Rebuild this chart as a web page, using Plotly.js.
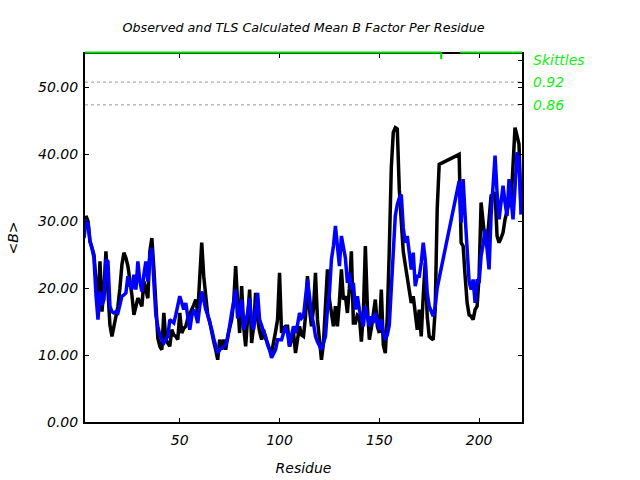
<!DOCTYPE html>
<html>
<head>
<meta charset="utf-8">
<script src="https://cdn.plot.ly/plotly-3.0.1.min.js"></script>
<style>
  body { margin: 0; background: #fff; }
  #chart { width: 640px; height: 480px; }
</style>
</head>
<body>
<div id="chart"></div>
<script>
// residues are numbered from 2; a chain break between 180 and 190
const segStart = [2, 190];

// observed mean B per residue (black)
const obsSeg1 = [
  28.0, 30.8, 30.0, 27.0, 26.0, 25.0, 21.0, 17.0, 24.0, 16.5,   // 2-11
  20.0, 25.5, 19.5, 14.5, 12.8, 14.3, 16.0, 17.3, 20.0, 23.5,   // 12-21
  25.3, 24.5, 23.3, 21.5, 19.0, 16.0, 17.3, 18.5, 18.0, 17.3,   // 22-31
  21.0, 19.5, 18.5, 25.5, 27.5, 23.0, 17.3, 12.5, 11.3, 10.8,   // 32-41
  16.3, 12.3, 11.8, 11.3, 13.8, 13.0, 12.8, 12.3, 16.3, 13.3,   // 42-51
  14.0, 14.3, 15.5, 16.3, 16.8, 17.5, 18.3, 16.3, 21.3, 26.8,   // 52-61
  21.8, 18.3, 16.0, 15.0, 13.3, 12.0, 10.8, 9.3, 12.3, 10.8,    // 62-71
  12.3, 10.8, 12.8, 14.0, 15.3, 17.8, 23.3, 17.8, 13.3, 20.3,   // 72-81
  14.3, 11.3, 15.8, 19.8, 11.8, 14.3, 19.3, 15.3, 13.5, 12.3,   // 82-91
  13.8, 12.5, 11.8, 10.8, 10.3, 12.3, 13.5, 15.3, 22.3, 13.3,   // 92-101
  14.0, 14.3, 14.3, 11.3, 12.5, 13.3, 10.3, 12.0, 14.3, 13.0,   // 102-111
  12.8, 15.8, 21.8, 16.8, 14.3, 17.0, 22.3, 15.3, 11.8, 9.3,    // 112-121
  11.8, 17.3, 22.8, 18.3, 16.0, 14.3, 17.3, 14.3, 18.0, 22.8,   // 122-131
  18.3, 18.8, 16.3, 20.0, 25.5, 14.8, 14.8, 16.0, 15.8, 12.0,   // 132-141
  16.3, 26.3, 17.3, 12.3, 14.0, 15.8, 18.3, 14.3, 13.3, 19.8,   // 142-151
  11.5, 10.3, 15.8, 25.8, 38.0, 43.3, 44.0, 43.8, 34.8, 30.0,   // 152-161
  25.5, 23.5, 21.5, 19.5, 17.8, 18.8, 15.8, 13.8, 16.8, 12.8,   // 162-171
  18.8, 23.8, 15.8, 12.8, 12.5, 12.3, 16.8, 31.8, 38.5          // 172-180
];
const obsSeg2 = [
  40.0, 26.8, 26.3, 21.8, 17.8, 16.0, 15.8, 15.3, 16.8, 17.3,   // 190-199
  21.8, 32.8, 29.5, 27.0, 26.8, 30.8, 33.8, 34.0, 34.3, 27.8,   // 200-209
  26.8, 27.5, 28.3, 30.3, 31.5, 32.8, 32.8, 38.0, 44.0, 42.8,   // 210-219
  41.5, 32.0                                                    // 220-221
];

// TLS calculated mean B per residue (blue)
const tlsSeg1 = [
  27.5, 30.0, 29.8, 27.0, 26.0, 24.5, 19.0, 15.3, 19.5, 17.5,   // 2-11
  18.3, 24.3, 24.0, 17.3, 16.5, 16.3, 16.5, 16.3, 17.5, 18.8,   // 12-21
  19.0, 19.3, 21.8, 20.5, 19.8, 22.0, 19.8, 24.0, 21.0, 19.5,   // 22-31
  22.0, 24.0, 21.0, 24.8, 26.0, 21.0, 16.0, 14.3, 13.0, 12.3,   // 32-41
  11.8, 12.3, 12.8, 15.3, 15.0, 14.8, 16.0, 17.3, 18.8, 17.8,   // 42-51
  16.8, 17.8, 16.0, 13.8, 15.8, 16.8, 16.0, 14.8, 17.3, 19.5,   // 52-61
  18.3, 16.8, 16.0, 15.0, 13.8, 12.5, 11.3, 10.3, 10.8, 11.0,   // 62-71
  11.3, 11.5, 12.5, 14.8, 16.3, 18.0, 19.8, 15.5, 16.5, 18.3,   // 72-81
  13.8, 15.0, 16.3, 18.5, 14.8, 13.8, 17.0, 19.3, 15.3, 14.3,   // 82-91
  13.5, 12.8, 11.5, 10.8, 9.6, 10.2, 10.8, 12.3, 12.3, 12.3,    // 92-101
  13.3, 14.3, 13.3, 11.3, 13.0, 14.3, 13.3, 14.5, 16.3, 15.5,   // 102-111
  15.8, 19.0, 21.3, 18.8, 16.0, 14.8, 12.8, 12.0, 11.3, 10.8,   // 112-121
  11.8, 12.8, 16.8, 19.3, 24.3, 26.3, 29.3, 26.3, 23.3, 27.8,   // 122-131
  26.0, 24.5, 20.8, 22.3, 19.8, 20.8, 16.8, 18.8, 16.8, 15.5,   // 132-141
  14.3, 17.3, 15.5, 14.3, 15.8, 14.8, 16.3, 15.0, 13.8, 15.3,   // 142-151
  13.3, 12.3, 13.0, 14.5, 20.5, 25.8, 30.8, 32.5, 33.5, 34.0,   // 152-161
  29.0, 26.8, 27.8, 25.3, 22.8, 25.3, 20.3, 21.8, 21.8, 23.8,   // 162-171
  26.8, 24.3, 19.3, 17.3, 16.5, 15.8, 17.3, 20.0, 21.5          // 172-180
];
const tlsSeg2 = [
  36.0, 29.8, 36.3, 30.8, 25.0, 21.0, 19.8, 21.3, 17.8, 21.3,   // 190-199
  20.8, 24.8, 26.5, 28.8, 25.8, 22.8, 30.8, 34.8, 39.8, 34.3,   // 200-209
  30.3, 32.8, 35.3, 32.8, 30.8, 36.3, 33.0, 30.3, 35.0, 40.3,   // 210-219
  39.3, 31.0                                                    // 220-221
];

// skittles: TLS groups along the top, and the two thresholds on the right
const groupStart = [2.5, 190.5];
const groupEnd = [181, 221.5];
const rightTickVals = [47.4, 50.8, 54.1];
const rightTickText = ['0.86', '0.92', 'Skittles'];
const dottedLevels = [47.4, 50.8];

function residues(first, n) {
    let out = [];
    for (let i = 0; i < n; i++) out.push(first + i);
    return out;
}

// stitch the two segments; plotly just joins the break with a straight line
const resX = residues(segStart[0], obsSeg1.length).concat(residues(segStart[1], obsSeg2.length));
const obsY = obsSeg1.concat(obsSeg2);
const tlsY = tlsSeg1.concat(tlsSeg2);

const FONT = 'DejaVu Sans, Verdana, sans-serif';
const GREEN = '#11ee11';

const traces = [
    { x: resX, y: obsY, type: 'scatter', mode: 'lines', line: { color: '#000000', width: 3.5 }, name: 'Observed' },
    { x: resX, y: tlsY, type: 'scatter', mode: 'lines', line: { color: '#0000ff', width: 3.5 }, name: 'TLS' },
    // invisible trace so the right axis exists
    { x: [resX[0]], y: [0], yaxis: 'y2', mode: 'markers', marker: { opacity: 0 }, hoverinfo: 'skip', showlegend: false }
];

let shapes = [];
dottedLevels.forEach(v => {
    shapes.push({ type: 'line', xref: 'paper', x0: 0, x1: 1, yref: 'y', y0: v, y1: v,
        line: { color: '#999999', width: 1, dash: 'dot' }, layer: 'below' });
});
for (let i = 0; i < groupStart.length; i++) {
    shapes.push({ type: 'line', xref: 'x', x0: groupStart[i], x1: groupEnd[i], yref: 'paper', y0: 1.004, y1: 1.004,
        line: { color: '#00dd00', width: 2 } });
}
// little marker where the first group ends
shapes.push({ type: 'line', xref: 'x', x0: groupEnd[0], x1: groupEnd[0], yref: 'paper', y0: 1.004, y1: 0.986,
    line: { color: '#00dd00', width: 2 } });

const layout = {
    width: 640,
    height: 480,
    margin: { l: 85, r: 118, t: 54, b: 58 },
    paper_bgcolor: '#ffffff',
    plot_bgcolor: '#ffffff',
    showlegend: false,
    font: { family: FONT, size: 14, color: '#000000', style: 'italic' },
    title: { text: 'Observed and TLS Calculated Mean B Factor Per Residue', x: 0.5, xref: 'paper', y: 0.942, yanchor: 'middle',
        font: { family: FONT, size: 12.7, style: 'italic', color: '#000000' } },
    xaxis: {
        range: [2.5, 221.5], dtick: 50, showgrid: false, zeroline: false,
        showline: true, linecolor: '#000000', linewidth: 2, mirror: 'ticks',
        ticks: 'inside', ticklen: 4, tickwidth: 1, tickcolor: '#000000', ticklabelstandoff: 4,
        tickfont: { family: FONT, size: 14, style: 'italic' },
        title: { text: 'Residue', standoff: 16, font: { family: FONT, size: 14, style: 'italic' } }
    },
    yaxis: {
        range: [0, 55], dtick: 10, tickformat: '.2f', showgrid: false, zeroline: false,
        showline: true, linecolor: '#000000', linewidth: 2, mirror: 'ticks',
        ticks: 'inside', ticklen: 4, tickwidth: 1, tickcolor: '#000000', ticklabelstandoff: 2,
        tickfont: { family: FONT, size: 14, style: 'italic' },
        title: { text: '&lt;B&gt;', standoff: 16, font: { family: FONT, size: 14, style: 'italic' } }
    },
    yaxis2: {
        overlaying: 'y', side: 'right', range: [0, 55], showgrid: false, zeroline: false,
        showline: false, tickvals: rightTickVals, ticktext: rightTickText,
        ticks: 'inside', ticklen: 4, tickwidth: 1, tickcolor: '#000000', ticklabelstandoff: 10,
        tickfont: { family: FONT, size: 14, style: 'italic', color: GREEN }
    },
    shapes: shapes
};

Plotly.newPlot('chart', traces, layout, { displayModeBar: false, staticPlot: true });
</script>
</body>
</html>
